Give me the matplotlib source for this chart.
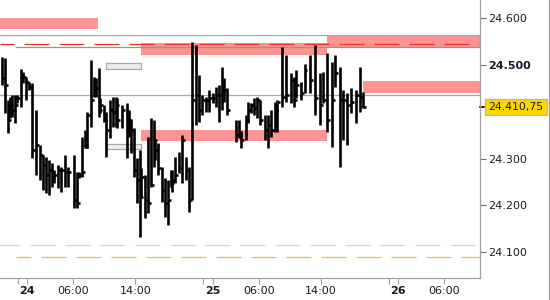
"""Intraday OHLC bar chart with zone overlays (30 min bars)."""

import matplotlib.pyplot as plt
from matplotlib.lines import Line2D
from matplotlib.patches import Rectangle
from matplotlib.transforms import blended_transform_factory

# bar time in hours from day 24 00:00, high, low, close
hours = [-3.2, -2.8, -2.5, -2.2, -1.9, -1.5, -1.3, -0.8, -0.5, -0.1,
         0.3, 0.6, 1.2, 1.7, 2.1, 2.5, 2.8, 3.2, 3.5, 4.0,
         4.4, 4.9, 5.3, 6.1, 6.5, 6.7, 7.1, 7.5, 7.7, 8.3,
         8.6, 8.9, 9.3, 9.5, 9.9, 10.2, 10.7, 11.1, 11.5, 11.7,
         12.3, 12.9, 13.2, 13.5, 13.8, 14.2, 14.6, 14.8, 15.2, 15.6,
         16.0, 16.4, 16.6, 17.0, 17.4, 17.8, 18.2, 18.6, 18.8, 19.2,
         19.6, 20.1, 20.5, 20.9, 21.3, 21.8, 22.2, 22.6, 23.1, 23.6,
         24.0, 24.4, 24.8, 25.2, 25.5, 25.9, 27.0, 27.4, 27.7, 28.3,
         28.6, 29.0, 29.4, 29.8, 30.2, 30.8, 31.2, 31.6, 32.1, 32.4,
         33.0, 33.5, 34.1, 34.5, 34.8, 35.4, 35.9, 36.6, 37.2, 37.9,
         38.3, 38.8, 39.4, 39.9, 40.5, 40.9, 41.4, 41.9, 42.6, 43.1,
         43.5]
highs = [24.517, 24.515, 24.425, 24.432, 24.436, 24.436, 24.436, 24.491, 24.485, 24.474,
         24.464, 24.462, 24.404, 24.329, 24.308, 24.303, 24.297, 24.291, 24.276, 24.286,
         24.282, 24.308, 24.282, 24.308, 24.271, 24.271, 24.346, 24.361, 24.400, 24.511,
         24.474, 24.472, 24.494, 24.430, 24.414, 24.400, 24.425, 24.432, 24.432, 24.430,
         24.414, 24.419, 24.404, 24.382, 24.365, 24.301, 24.318, 24.280, 24.265, 24.346,
         24.387, 24.382, 24.340, 24.333, 24.282, 24.258, 24.254, 24.276, 24.276, 24.303,
         24.314, 24.350, 24.303, 24.282, 24.549, 24.543, 24.479, 24.436, 24.432, 24.447,
         24.440, 24.453, 24.457, 24.496, 24.472, 24.451, 24.382, 24.382, 24.357, 24.393,
         24.421, 24.419, 24.430, 24.432, 24.425, 24.393, 24.393, 24.404, 24.421, 24.425,
         24.539, 24.521, 24.483, 24.474, 24.489, 24.464, 24.502, 24.521, 24.543, 24.483,
         24.485, 24.526, 24.506, 24.521, 24.496, 24.447, 24.440, 24.451, 24.447, 24.496,
         24.442]
lows = [24.457, 24.397, 24.355, 24.387, 24.389, 24.376, 24.419, 24.410, 24.462, 24.425,
        24.447, 24.301, 24.265, 24.254, 24.233, 24.226, 24.222, 24.239, 24.248, 24.237,
        24.229, 24.239, 24.239, 24.194, 24.194, 24.258, 24.261, 24.323, 24.323, 24.368,
        24.432, 24.432, 24.389, 24.397, 24.378, 24.303, 24.344, 24.368, 24.368, 24.365,
        24.365, 24.301, 24.346, 24.312, 24.261, 24.205, 24.132, 24.218, 24.173, 24.184,
        24.239, 24.282, 24.297, 24.265, 24.207, 24.175, 24.158, 24.239, 24.229, 24.248,
        24.269, 24.248, 24.254, 24.186, 24.211, 24.372, 24.378, 24.393, 24.400, 24.400,
        24.419, 24.410, 24.378, 24.404, 24.421, 24.393, 24.335, 24.344, 24.323, 24.340,
        24.376, 24.397, 24.393, 24.387, 24.372, 24.340, 24.323, 24.346, 24.357, 24.357,
        24.410, 24.421, 24.419, 24.410, 24.430, 24.425, 24.440, 24.440, 24.393, 24.372,
        24.419, 24.357, 24.325, 24.453, 24.282, 24.340, 24.329, 24.397, 24.376, 24.400,
        24.408]
closes = [24.472, 24.457, 24.382, 24.414, 24.404, 24.414, 24.430, 24.479, 24.474, 24.464,
          24.453, 24.318, 24.329, 24.308, 24.286, 24.265, 24.276, 24.261, 24.265, 24.276,
          24.276, 24.271, 24.271, 24.211, 24.205, 24.265, 24.271, 24.325, 24.393, 24.425,
          24.468, 24.451, 24.404, 24.414, 24.382, 24.361, 24.404, 24.400, 24.414, 24.382,
          24.404, 24.382, 24.382, 24.361, 24.276, 24.254, 24.218, 24.261, 24.211, 24.205,
          24.244, 24.340, 24.318, 24.280, 24.233, 24.205, 24.211, 24.248, 24.254, 24.265,
          24.280, 24.340, 24.276, 24.211, 24.425, 24.436, 24.404, 24.425, 24.425, 24.430,
          24.430, 24.436, 24.436, 24.447, 24.447, 24.404, 24.350, 24.357, 24.340, 24.382,
          24.404, 24.414, 24.408, 24.425, 24.382, 24.361, 24.372, 24.361, 24.404, 24.421,
          24.432, 24.436, 24.468, 24.425, 24.457, 24.440, 24.489, 24.468, 24.430, 24.414,
          24.425, 24.382, 24.425, 24.483, 24.425, 24.425, 24.414, 24.421, 24.436, 24.432,
          24.41075]

last_price = 24.41075
last_label = "24.410,75"

# zones: (start hour, end hour, low, high)
red_zones = [(-3.5, 9.2, 24.577, 24.600),
             (14.8, 38.8, 24.521, 24.547),
             (38.8, 58.7, 24.539, 24.564),
             (43.5, 58.7, 24.440, 24.466),
             (14.8, 38.8, 24.338, 24.361)]
gray_boxes = [(10.2, 14.8, 24.491, 24.504),
              (10.2, 14.8, 24.320, 24.331)]

top_line = 24.564
red_dash = 24.545
green_line = 24.539
price_line = 24.436
gray_dash = 24.115
orange_dash = 24.090

y_ticks = [24.1, 24.2, 24.3, 24.5, 24.6]
x_ticks = [0, 6, 14, 24, 30, 38, 48, 54]
x_labels = ["24", "06:00", "14:00", "25", "06:00", "14:00", "26", "06:00"]
day_starts = [-1.2, 22.8, 46.8]

fig = plt.figure(figsize=(5.5, 3), dpi=100)
ax = fig.add_axes([0, 22 / 300, 480 / 550, 278 / 300])

for x0, x1, lo, hi in red_zones:
    ax.add_patch(Rectangle((x0, lo), x1 - x0, hi - lo, facecolor='#ff9393',
                           edgecolor='none', zorder=1))
for x0, x1, lo, hi in gray_boxes:
    ax.add_patch(Rectangle((x0, lo), x1 - x0, hi - lo, facecolor='#efefef',
                           edgecolor='#a8a8a8', linewidth=0.9, zorder=1))

# dash pattern: 25 px on, 10 px off (units scale with lw=0.9)
ax.axhline(top_line, color='#aaaaaa', lw=0.9, zorder=2)
ax.axhline(red_dash, color='#e83030', lw=0.9, linestyle=(8.8, (20, 8)), zorder=2)
ax.axhline(green_line, color='#5cbf4a', lw=0.9, xmin=16 / 480, zorder=2)
ax.axhline(price_line, color='#aaaaaa', lw=0.9, zorder=2)
ax.axhline(gray_dash, color='#d4d4d4', lw=0.9, linestyle=(4, (20, 8)), zorder=2)
ax.axhline(orange_dash, color='#f5b840', lw=0.9, linestyle=(8, (20, 8)),
           xmin=16 / 480, zorder=2)

ax.vlines(hours, lows, highs, color='black', linewidth=1.9, zorder=3)
ax.hlines(closes, hours, [h + 0.38 for h in hours], color='black', linewidth=1.9, zorder=3)

ax.set_xlim(-3.5, 58.6)
ax.set_ylim(24.0446, 24.639)

for side in ['left', 'top']:
    ax.spines[side].set_visible(False)
for side in ['right', 'bottom']:
    ax.spines[side].set_color('#a0a0a0')
    ax.spines[side].set_linewidth(0.9)

ax.yaxis.tick_right()
ax.set_yticks(y_ticks)
ax.set_yticklabels([f"{v:.3f}" for v in y_ticks])
for lab, v in zip(ax.get_yticklabels(), y_ticks):
    if abs(v - 24.5) < 1e-6:
        lab.set_fontweight('bold')
ax.tick_params(axis='y', direction='out', length=4, color='#707070', width=0.8,
               labelsize=8, labelcolor='#1a1a2a', pad=2)

ax.set_xticks(x_ticks)
ax.set_xticklabels(x_labels)
for lab in ax.get_xticklabels():
    if ':' not in lab.get_text():
        lab.set_fontweight('bold')
ax.set_xticks(day_starts, minor=True)
ax.tick_params(axis='x', which='both', direction='out', length=4, color='#a0a0a0',
               width=0.8, labelsize=8, labelcolor='#1a1a2a', pad=2)

# current price marker on the axis
trans = blended_transform_factory(ax.transAxes, ax.transData)
ax.plot([1.0, 1.009], [last_price, last_price], color='black', lw=1.2,
        transform=trans, clip_on=False)
ax.text(1.018, last_price, last_label, transform=trans, ha='left', va='center',
        fontsize=7.8, color='#1a1a2a',
        bbox=dict(boxstyle='square,pad=0.3', facecolor='#ffd700', edgecolor='#b5b5b5',
                  linewidth=0.9))

fig.add_artist(Line2D([548.5 / 550, 548.5 / 550], [0, 1], color='#a0a0a0', lw=0.9))

plt.savefig("out.png", dpi=100)
